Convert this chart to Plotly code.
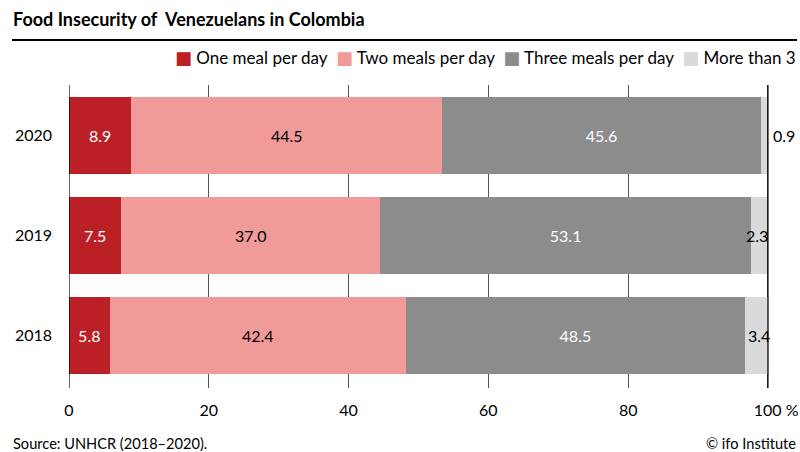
import plotly.graph_objects as go

years = ["2018", "2019", "2020"]
series_names = ["One meal per day", "Two meals per day", "Three meals per day", "More than 3"]
one_meal = [5.8, 7.5, 8.9]
two_meals = [42.4, 37.0, 44.5]
three_meals = [48.5, 53.1, 45.6]
more_than_3 = [3.4, 2.3, 0.9]
colors = ["#BA2025", "#F09B9A", "#8C8C8C", "#DADADA"]
text_colors = ["white", "black", "white", "black"]
x_tickvals = [0, 20, 40, 60, 80, 100]
x_ticktext = ["0", "20", "40", "60", "80", "\u00a0\u00a0\u00a0\u00a0100 %"]

FONT = "Lato"
series = [one_meal, two_meals, three_meals, more_than_3]

W, H = 800, 452
L, R, T, B = 69, 31, 85, 64
PW, PH = W - L - R, H - T - B


def px_x(px):
    return (px - L) / PW


def px_y(py):
    return (H - B - py) / PH


fig = go.Figure()
for i, (name, vals) in enumerate(zip(series_names, series)):
    show_text = i < 3
    fig.add_trace(go.Bar(
        y=years, x=vals, name=name, orientation="h",
        marker=dict(color=colors[i], line=dict(width=0)),
        text=[f"{v:.1f}" for v in vals] if show_text else None,
        textposition="inside" if show_text else "none",
        insidetextanchor="middle",
        textangle=0,
        insidetextfont=dict(color=text_colors[i], size=16, family=FONT),
        showlegend=False,
        hoverinfo="skip",
    ))

# labels for the last (small) segment
for idx, (a, b, c, d) in enumerate(zip(one_meal, two_meals, three_meals, more_than_3)):
    end = a + b + c + d
    if d < 1.5:
        fig.add_annotation(x=end, y=idx, xref="x", yref="y", text=f"{d:.1f}", showarrow=False,
                           xanchor="left", xshift=4, font=dict(size=16, color="black", family=FONT))
    else:
        fig.add_annotation(x=end, y=idx, xref="x", yref="y", text=f"{d:.1f}", showarrow=False,
                           xanchor="right", xshift=3, font=dict(size=16, color="black", family=FONT))

# legend built as one right-aligned text line
legend_parts = []
for name, col in zip(series_names, colors):
    legend_parts.append(f"<span style='color:{col};font-family:DejaVu Sans;font-size:18px'>\u25A0</span>\u00a0{name}")
fig.add_annotation(xref="paper", yref="paper", x=px_x(798), y=px_y(58),
                   text="\u00a0\u00a0".join(legend_parts), showarrow=False, xanchor="right", yanchor="middle",
                   font=dict(size=17, color="black", family=FONT))

fig.add_shape(type="line", xref="x", yref="paper", x0=100, x1=100, y0=0, y1=1,
              line=dict(color="black", width=1.2), layer="above")
fig.add_shape(type="line", xref="x", yref="paper", x0=0, x1=0, y0=0, y1=1,
              line=dict(color="black", width=1.2), layer="above")
# title rule
fig.add_shape(type="line", xref="paper", yref="paper", x0=px_x(12), x1=px_x(797), y0=px_y(40), y1=px_y(40),
              line=dict(color="black", width=2))

fig.add_annotation(xref="paper", yref="paper", x=px_x(11), y=px_y(19),
                   text="<b>Food Insecurity of  Venezuelans in Colombia</b>", showarrow=False,
                   xanchor="left", yanchor="middle", font=dict(size=18, color="black", family=FONT))
fig.add_annotation(xref="paper", yref="paper", x=px_x(11), y=px_y(443), text="Source: UNHCR (2018–2020).",
                   showarrow=False, xanchor="left", yanchor="middle", font=dict(size=14.6, family=FONT))
fig.add_annotation(xref="paper", yref="paper", x=px_x(798), y=px_y(443), text="© ifo Institute",
                   showarrow=False, xanchor="right", yanchor="middle", font=dict(size=14.6, family=FONT))

fig.update_layout(
    barmode="stack",
    bargap=0.23,
    width=W, height=H,
    margin=dict(l=L, r=R, t=T, b=B, autoexpand=False),
    paper_bgcolor="white", plot_bgcolor="white",
    font=dict(family=FONT, size=16, color="black"),
    xaxis=dict(range=[0, 100.15], tickvals=x_tickvals, ticktext=x_ticktext, showgrid=True,
               gridcolor="#555555", gridwidth=1, zeroline=False, showline=False, automargin=False,
               ticks="", ticklabelstandoff=11, tickfont=dict(size=16), fixedrange=True),
    yaxis=dict(type="category", range=[-0.525, 2.505], showgrid=False, zeroline=False, showline=False,
               automargin=False, ticks="", ticklabelstandoff=16, tickfont=dict(size=16), fixedrange=True),
    showlegend=False,
)

fig.write_html("out.html", config={"displayModeBar": False},
               post_script="document.body.style.margin='0';document.body.style.overflow='hidden';")
